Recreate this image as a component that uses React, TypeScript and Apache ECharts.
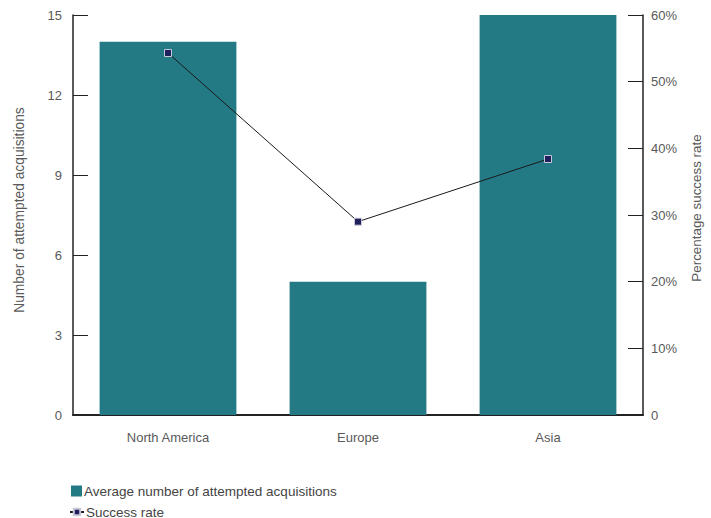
import React, { useEffect, useRef } from "react";
import * as echarts from "echarts";

const categories = ["North America", "Europe", "Asia"];
const attempted = [14, 5, 15];
const successRate = [54.3, 29, 38.4];
const leftTicks = [0, 3, 6, 9, 12, 15];
const rightTicks = [0, 10, 20, 30, 40, 50, 60];

const FONT = "Liberation Sans";
const GREY = "#595959";
const FS = 13;

export default function App() {
  const ref = useRef<HTMLDivElement>(null);
  useEffect(() => {
    if (!ref.current) return;
    const chart = echarts.init(ref.current, undefined, { renderer: "svg" });
    const legendText = { color: "#444", fontSize: 13.5, fontFamily: FONT, padding: [0, 0, 0, -3] };
    chart.setOption({
      animation: false,
      textStyle: { fontFamily: FONT },
      grid: { left: 73, right: 63, top: 15, bottom: 103 },
      legend: [
        {
          orient: "horizontal",
          left: 71,
          top: 484,
          padding: 0,
          itemWidth: 11,
          itemHeight: 11,
          textStyle: legendText,
          data: [{ name: "Average number of attempted acquisitions", icon: "rect", itemStyle: { borderWidth: 0 } }],
        },
        {
          orient: "horizontal",
          left: 69,
          top: 505,
          padding: 0,
          itemWidth: 14,
          itemHeight: 8,
          textStyle: legendText,
          data: [{ name: "Success rate" }],
        },
      ],
      xAxis: {
        type: "category",
        data: categories,
        axisLine: { lineStyle: { color: "#222", width: 2 } },
        axisTick: { show: false },
        axisLabel: { color: GREY, fontSize: FS, margin: 16, fontFamily: FONT },
      },
      yAxis: [
        {
          type: "value",
          min: leftTicks[0],
          max: leftTicks[leftTicks.length - 1],
          interval: 3,
          name: "Number of attempted acquisitions",
          nameLocation: "middle",
          nameRotate: 90,
          nameGap: 47,
          nameTextStyle: { color: GREY, fontSize: 13.8, fontFamily: FONT, padding: [0, 0, 0, 10] },
          axisLine: { show: true, lineStyle: { color: "#222", width: 1.5 } },
          axisTick: { show: true, inside: true, length: 15, lineStyle: { color: "#222" } },
          axisLabel: { color: GREY, fontSize: FS, margin: 11, fontFamily: FONT },
          splitLine: { show: false },
        },
        {
          type: "value",
          min: rightTicks[0],
          max: rightTicks[rightTicks.length - 1],
          interval: 10,
          position: "right",
          name: "Percentage success rate",
          nameLocation: "middle",
          nameRotate: 90,
          nameGap: 47,
          nameTextStyle: { color: GREY, fontSize: 13.4, fontFamily: FONT, padding: [0, 0, 0, 14] },
          axisLine: { show: true, lineStyle: { color: "#222", width: 1.5 } },
          axisTick: { show: true, inside: true, length: 15, lineStyle: { color: "#222" } },
          axisLabel: {
            color: GREY,
            fontSize: FS,
            margin: 8,
            fontFamily: FONT,
            formatter: (v: number) => (v === 0 ? "0" : v + "%"),
          },
          splitLine: { show: false },
        },
      ],
      series: [
        {
          name: "Average number of attempted acquisitions",
          type: "bar",
          data: attempted,
          barCategoryGap: "28%",
          itemStyle: { color: "#237a84" },
          yAxisIndex: 0,
        },
        {
          name: "Success rate",
          type: "line",
          data: successRate,
          yAxisIndex: 1,
          symbol: "rect",
          symbolSize: 7,
          lineStyle: { color: "#1a1a1a", width: 1 },
          itemStyle: { color: "#1f1f5c", borderColor: "#c8c8d8", borderWidth: 1 },
        },
      ],
    });
    return () => chart.dispose();
  }, []);
  return <div ref={ref} style={{ width: 711, height: 518, position: "absolute", left: 0, top: 0 }} />;
}
